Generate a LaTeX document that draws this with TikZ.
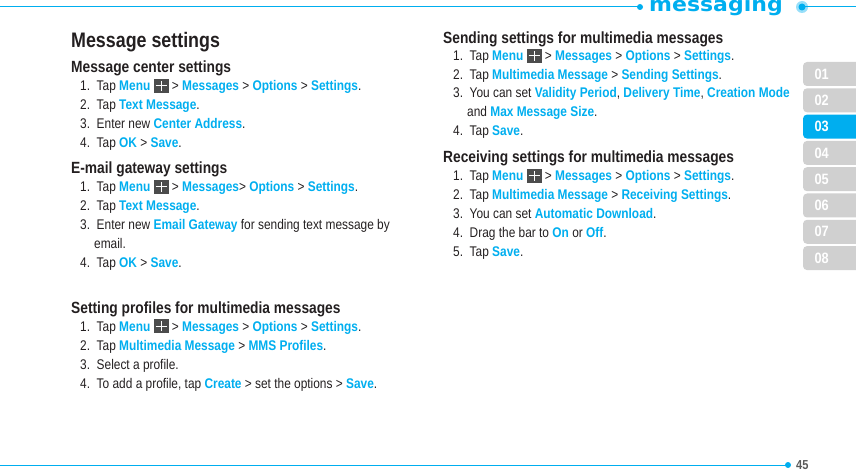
\documentclass[tikz,border=0pt]{standalone}
\usepackage{fontspec}
\setmainfont{Liberation Sans}[FakeStretch=0.85]
\newfontfamily\hdfont{DejaVu Sans}[FakeStretch=1.1]
\definecolor{cyanb}{HTML}{00AEEF}
\definecolor{txt}{HTML}{231F20}
\definecolor{tabg}{HTML}{D0D0D0}
\newcommand{\bl}[1]{{\bfseries\color{cyanb}#1}}
\newcommand{\mico}{\tikz[baseline=0pt,x=1pt,y=1pt]{\fill[black!70] (0,-2) rectangle (15,12);\draw[white,line width=1pt] (7.5,0)--(7.5,10) (2,5)--(13,5);}}
\begin{document}
\begin{tikzpicture}[x=1pt,y=-1pt,
  ln/.style={anchor=base west,inner sep=0pt,font=\fontsize{14}{15}\selectfont,text=txt},
  hd/.style={anchor=base west,inner sep=0pt,font=\fontsize{16.2}{18}\selectfont\bfseries,text=txt},
  tab/.style={fill=tabg,rounded corners=4pt},
  tabt/.style={font=\fontsize{15}{16}\selectfont\bfseries,text=white}]
\useasboundingbox (0,0) rectangle (856,470);
% header
\draw[cyanb,line width=1pt] (0,7) -- (640,7);
\fill[cyanb] (640,7) circle (3);
\node[anchor=base,inner sep=0pt,font=\fontsize{20}{20}\selectfont\hdfont\bfseries,text=cyanb] (ttl) at (716,12) {messaging};
\fill[cyanb!40] (802,7) circle (6);
\fill[cyanb] (802,7) circle (3.5);
\draw[cyanb,line width=1pt] (802,7) -- (856,7);
% footer
\draw[cyanb,line width=0.8pt] (0,465) -- (788,465);
\fill[cyanb] (788,465) circle (3);
\node[anchor=base west,inner sep=0pt,font=\fontsize{13}{13}\selectfont\bfseries,text=black!65] (pg) at (796,469) {45};
% tabs
\foreach \n [count=\i] in {01,02,03,04,05,06,07,08}{
  \pgfmathsetmacro\yy{62+(\i-1)*26.3}
  \ifnum\i=3
    \fill[cyanb,rounded corners=4pt] (803,\yy) rectangle (870,\yy+24);
  \else
    \fill[tab] (803,\yy) rectangle (870,\yy+24);
  \fi
  \node[tabt,anchor=west] (t\i) at (811,\yy+12) {\n};
}
% left column
\node[anchor=base west,inner sep=0pt,font=\fontsize{21}{22}\selectfont\bfseries,text=txt] (L0) at (71,48) {Message settings};
\node[hd] (L1) at (71,73) {Message center settings};
\node[ln] (a1) at (80,91) {1.\ \ Tap \bl{Menu} \mico{} > \bl{Messages} > \bl{Options} > \bl{Settings}.};
\node[ln] (a2) at (80,110) {2.\ \ Tap \bl{Text Message}.};
\node[ln] (a3) at (80,129) {3.\ \ Enter new \bl{Center Address}.};
\node[ln] (a4) at (80,148) {4.\ \ Tap \bl{OK} > \bl{Save}.};
\node[hd] (L2) at (71,174) {E-mail gateway settings};
\node[ln] (b1) at (80,192) {1.\ \ Tap \bl{Menu} \mico{} > \bl{Messages}> \bl{Options} > \bl{Settings}.};
\node[ln] (b2) at (80,211) {2.\ \ Tap \bl{Text Message}.};
\node[ln] (b3) at (80,230) {3.\ \ Enter new \bl{Email Gateway} for sending text message by};
\node[ln] (b3b) at (94,249) {email.};
\node[ln] (b4) at (80,268) {4.\ \ Tap \bl{OK} > \bl{Save}.};
\node[hd] (L3) at (71,313) {Setting profiles for multimedia messages};
\node[ln] (c1) at (80,331) {1.\ \ Tap \bl{Menu} \mico{} > \bl{Messages} > \bl{Options} > \bl{Settings}.};
\node[ln] (c2) at (80,350) {2.\ \ Tap \bl{Multimedia Message} > \bl{MMS Profiles}.};
\node[ln] (c3) at (80,369) {3.\ \ Select a profile.};
\node[ln] (c4) at (80,388) {4.\ \ To add a profile, tap \bl{Create} > set the options > \bl{Save}.};
% right column
\node[hd] (R1) at (443,44) {Sending settings for multimedia messages};
\node[ln] (d1) at (453,61) {1.\ \ Tap \bl{Menu} \mico{} > \bl{Messages} > \bl{Options} > \bl{Settings}.};
\node[ln] (d2) at (453,80) {2.\ \ Tap \bl{Multimedia Message} > \bl{Sending Settings}.};
\node[ln] (d3) at (453,98) {3.\ \ You can set \bl{Validity Period}, \bl{Delivery Time}, \bl{Creation Mode}};
\node[ln] (d3b) at (467,117) {and \bl{Max Message Size}.};
\node[ln] (d4) at (453,136) {4.\ \ Tap \bl{Save}.};
\node[hd] (R2) at (443,163) {Receiving settings for multimedia messages};
\node[ln] (e1) at (453,181) {1.\ \ Tap \bl{Menu} \mico{} > \bl{Messages} > \bl{Options} > \bl{Settings}.};
\node[ln] (e2) at (453,200) {2.\ \ Tap \bl{Multimedia Message} > \bl{Receiving Settings}.};
\node[ln] (e3) at (453,219) {3.\ \ You can set \bl{Automatic Download}.};
\node[ln] (e4) at (453,238) {4.\ \ Drag the bar to \bl{On} or \bl{Off}.};
\node[ln] (e5) at (453,256) {5.\ \ Tap \bl{Save}.};
\end{tikzpicture}
\end{document}
